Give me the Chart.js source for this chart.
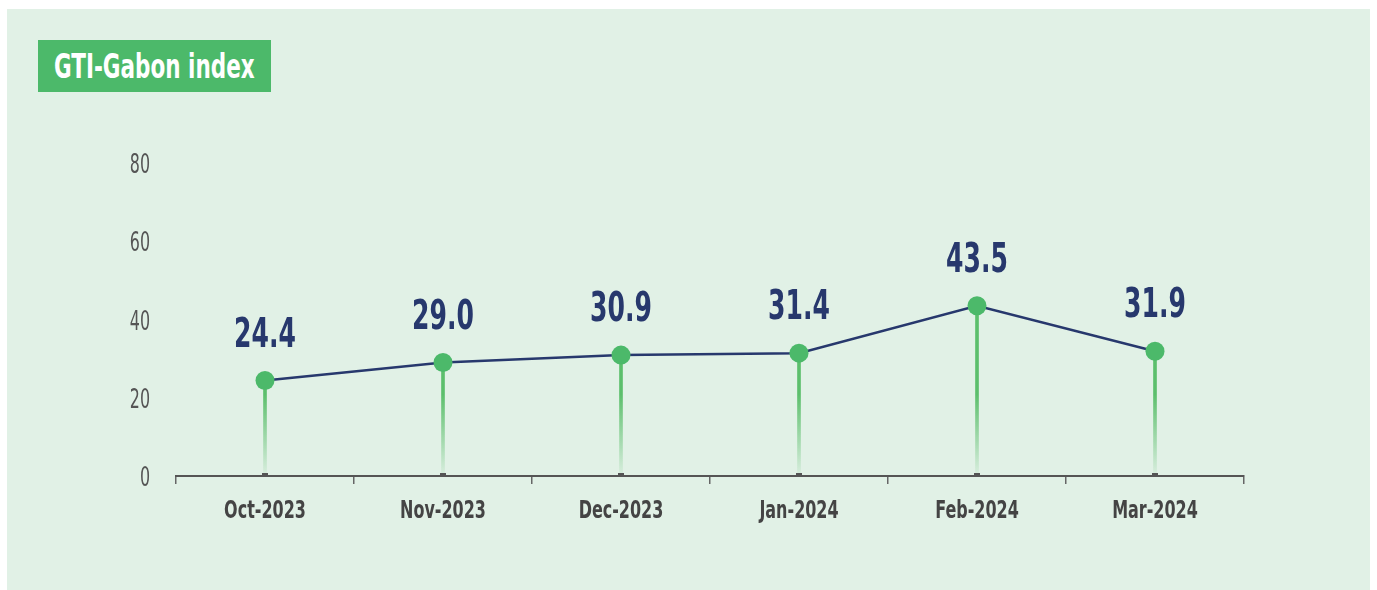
<!DOCTYPE html>
<html lang="en">
<head>
	<meta charset="UTF-8">
	<title>GTI-Gabon index</title>
	<script src="https://cdn.jsdelivr.net/npm/chart.js"></script>
	<style>
		body {
			margin: 0;
			background: #ffffff;
			font-family: 'DejaVu Sans Condensed', 'DejaVu Sans', sans-serif;
		}

		.panel {
			position: absolute;
			left: 7px;
			top: 9px;
			width: 1363px;
			height: 581px;
			background: #e1f1e6;
		}

		.title {
			position: absolute;
			left: 38px;
			top: 40px;
			width: 233px;
			height: 52px;
			background: #4cb96a;
			z-index: 2;
			overflow: hidden;
		}

		.title span {
			position: absolute;
			left: 16px;
			top: 9px;
			white-space: nowrap;
			color: #ffffff;
			font-weight: bold;
			font-size: 33px;
			line-height: 36px;
			transform: scaleX(0.725);
			transform-origin: left center;
		}

		#wrap {
			position: absolute;
			left: 0;
			top: 0;
			width: 1377px;
			height: 590px;
			z-index: 1;
		}
	</style>
</head>
<body>

	<div class="panel"></div>
	<div class="title"><span>GTI-Gabon index</span></div>
	<div id="wrap"><canvas id="gtiChart"></canvas></div>

	<script>
		// chart data
		const months = ['Oct-2023', 'Nov-2023', 'Dec-2023', 'Jan-2024', 'Feb-2024', 'Mar-2024'];
		const gtiValues = [24.4, 29.0, 30.9, 31.4, 43.5, 31.9];
		const yTicks = [0, 20, 40, 60, 80];

		const FONT = "'DejaVu Sans Condensed', 'DejaVu Sans', sans-serif";
		const NAVY = '#27386d';
		const GREEN = '#4cb96a';

		// draws text squeezed horizontally (no narrow font installed)
		function narrowText(ctx, text, x, y, font, color, sx, align) {
			ctx.save();
			ctx.translate(x, y);
			ctx.scale(sx, 1);
			ctx.font = font;
			ctx.fillStyle = color;
			ctx.textAlign = align;
			ctx.textBaseline = 'alphabetic';
			ctx.fillText(text, 0, 0);
			ctx.restore();
		}

		// value labels above points, plus the axis labels
		const textLayer = {
			id: 'textLayer',
			afterDraw(chart) {
				const ctx = chart.ctx;
				const meta = chart.getDatasetMeta(1);
				const xs = chart.scales.x;
				const ys = chart.scales.y;

				meta.data.forEach((pt, i) => {
					narrowText(ctx, gtiValues[i].toFixed(1), pt.x, pt.y - 34,
						'bold 41px ' + FONT, NAVY, 0.68, 'center');
				});

				months.forEach((m, i) => {
					narrowText(ctx, m, xs.getPixelForValue(i), 518,
						'bold 24px ' + FONT, '#444444', 0.74, 'center');
				});

				yTicks.forEach(v => {
					narrowText(ctx, String(v), 150, ys.getPixelForValue(v) + 10,
						'26px ' + FONT, '#555555', 0.68, 'right');
				});

				// little dark foot under every stem
				ctx.save();
				ctx.fillStyle = '#555555';
				meta.data.forEach(pt => {
					ctx.fillRect(pt.x - 3, ys.bottom - 3, 6, 3);
				});
				ctx.restore();
			}
		};

		// stems fade out towards the axis
		function stemColor(context) {
			const chart = context.chart;
			const area = chart.chartArea;
			if (!area) return GREEN;
			const g = chart.ctx.createLinearGradient(0, area.top, 0, area.bottom);
			g.addColorStop(0, '#5cbf6c');
			g.addColorStop(0.74, '#5cbf6c');
			g.addColorStop(1, 'rgba(92,191,108,0.05)');
			return g;
		}

		new Chart(document.getElementById('gtiChart'), {
			data: {
				labels: months,
				datasets: [{
					type: 'bar',
					data: gtiValues,
					backgroundColor: stemColor,
					barThickness: 3,
					order: 2
				}, {
					type: 'line',
					data: gtiValues,
					borderColor: NAVY,
					borderWidth: 2.5,
					pointRadius: 9.5,
					pointHoverRadius: 9.5,
					pointBackgroundColor: GREEN,
					pointBorderWidth: 0,
					tension: 0,
					order: 1
				}]
			},
			options: {
				responsive: true,
				maintainAspectRatio: false,
				animation: false,
				events: [],
				layout: {
					padding: {left: 100, right: 133, top: 163, bottom: 54}
				},
				plugins: {
					legend: {display: false},
					tooltip: {enabled: false}
				},
				scales: {
					x: {
						offset: true,
						grid: {
							offset: true,
							drawOnChartArea: false,
							drawTicks: true,
							tickLength: 8,
							tickColor: '#666666',
							lineWidth: 1.5
						},
						border: {color: '#555555', width: 2},
						ticks: {
							color: 'rgba(0,0,0,0)',
							padding: 14,
							font: {family: FONT, size: 22, weight: 'bold'}
						},
						afterFit(scale) {
							scale.height = 60;
						}
					},
					y: {
						min: 0,
						max: 80,
						afterBuildTicks(scale) {
							scale.ticks = yTicks.map(v => ({value: v}));
						},
						grid: {display: false, drawTicks: false},
						border: {display: false},
						ticks: {
							color: 'rgba(0,0,0,0)',
							padding: 26,
							font: {family: FONT, size: 21}
						},
						afterFit(scale) {
							scale.width = 76;
						}
					}
				}
			},
			plugins: [textLayer]
		});
	</script>

</body>
</html>
